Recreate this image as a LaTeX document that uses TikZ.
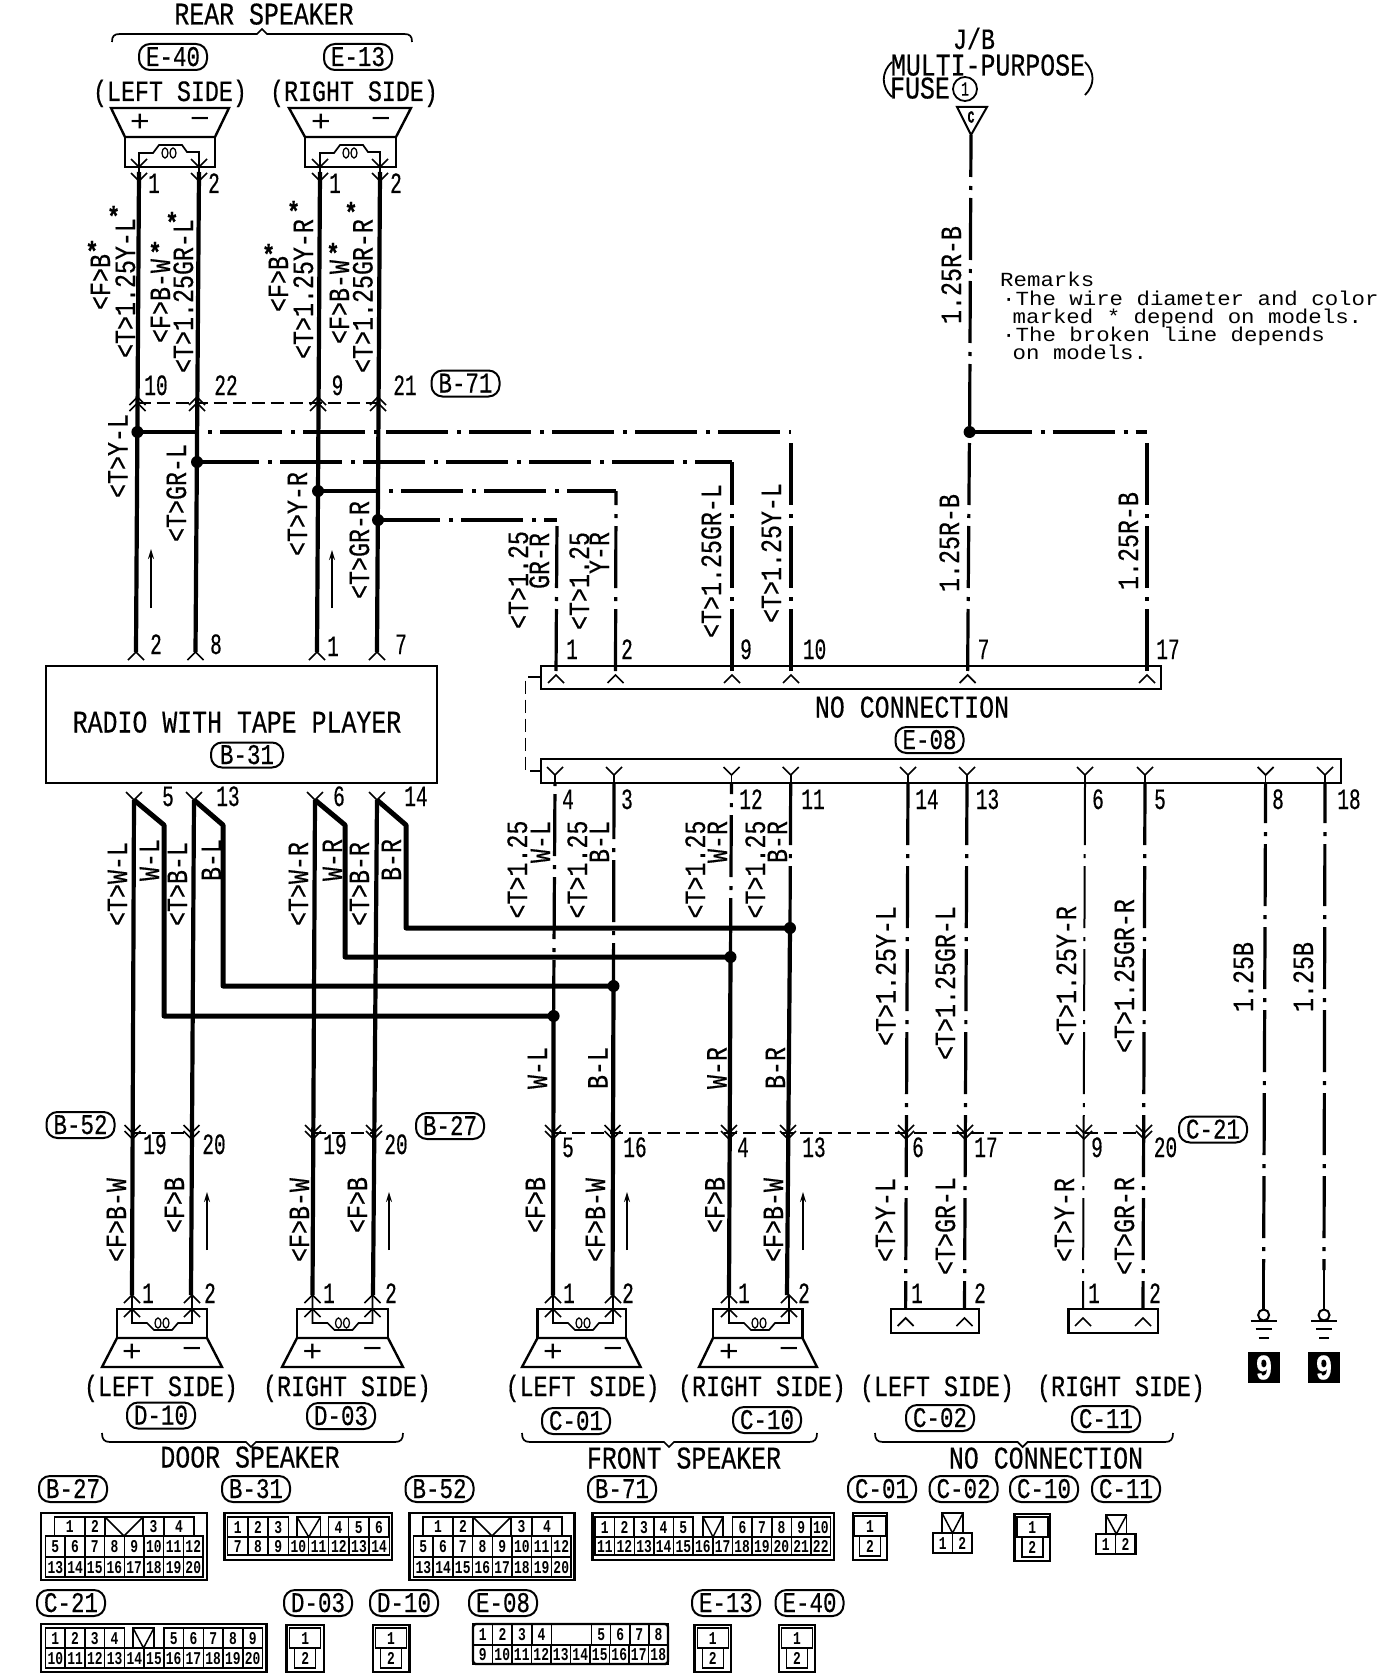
\documentclass[tikz,border=0pt]{standalone}
\usepackage{fontspec}
\usetikzlibrary{arrows.meta}
\newfontfamily\bigf[FakeStretch=0.79,FakeBold=0.4]{Liberation Mono}
\newfontfamily\narf[FakeStretch=0.66,FakeBold=0.4]{Liberation Mono}
\newfontfamily\cellf[FakeStretch=0.72]{Liberation Mono}
\newfontfamily\remf[FakeStretch=1.12]{Liberation Mono}
\newcounter{nn}
\tikzset{
 hb/.style={inner sep=0pt,text height=19pt,text depth=0pt,font=\bigf\fontsize{31.5}{31.5}\selectfont},
 sd/.style={inner sep=0pt,text height=18pt,text depth=0pt,font=\bigf\fontsize{29.5}{29.5}\selectfont},
 num/.style={inner sep=0pt,text height=18pt,text depth=0pt,font=\narf\fontsize{29.5}{29.5}\selectfont},
 rot/.style={sd,rotate=90},
 tagbox/.style={draw,line width=2pt,rounded corners=11pt,inner sep=0pt,minimum width=68pt,minimum height=26pt,text height=18pt,text depth=0pt,font=\bigf\fontsize{28.5}{28.5}\selectfont},
 cellnum/.style={inner sep=0pt,text height=12pt,text depth=0pt,font=\cellf\bfseries\fontsize{18}{18}\selectfont},
 star/.style={inner sep=0pt,font=\bigf\bfseries\fontsize{28}{28}\selectfont},
 sign/.style={inner sep=0pt,font=\remf\fontsize{30}{30}\selectfont},
 rem/.style={inner sep=0pt,anchor=base west,font=\remf\fontsize{20}{20}\selectfont},
 wire/.style={line width=4.2pt},
 hwire/.style={line width=5pt},
 fine/.style={line width=1.7pt},
 frame/.style={line width=2.4pt},
 cellline/.style={line width=1.5pt},
 ddash/.style={line width=3.2pt,dash pattern=on 62pt off 9pt on 4pt off 8pt},
 dthin/.style={line width=2pt,dash pattern=on 62pt off 9pt on 4pt off 8pt},
 dlink/.style={line width=2pt,dash pattern=on 13pt off 6pt},
 jdot/.style={fill=black,draw=none},
 flow/.style={line width=1.6pt,-{Stealth[length=10pt,width=6pt]}},
}
\newcommand\lab[4]{\stepcounter{nn}\node[#1] (n\thenn) at (#2,#3) {#4};}
\newcommand\tagb[3]{\stepcounter{nn}\node[tagbox] (n\thenn) at (#1,#2) {#3};}
\newcommand\chevup[2]{\draw[fine] (#1-8,#2+8) -- (#1,#2) -- (#1+8,#2+8);}
\newcommand\chevdn[2]{\draw[fine] (#1-8,#2-8) -- (#1,#2) -- (#1+8,#2-8);}
\newcommand\jn[2]{\fill[jdot] (#1,#2) circle (6pt);}
\newcommand\cell[5]{\draw[cellline] (#1,#3) rectangle (#2,#4);
  \stepcounter{nn}\node[cellnum] (n\thenn) at ({(#1+#2)/2},{(#3+#4)/2}) {#5};}
\newcommand\cellrow[5]{\foreach \n [count=\k from 0] in {#5} {
   \pgfmathsetmacro\xa{#1+\k*#2}\pgfmathsetmacro\xb{#1+(\k+1)*#2}
   \cell{\xa}{\xb}{#3}{#4}{\n}}}
\newcommand\notch[4]{\draw[cellline] (#1,#3) rectangle (#2,#4);
  \draw[cellline] (#1,#3) -- ({(#1+#2)/2},#4) -- (#2,#3);}
\newcommand\spkup[5]{\draw[frame] (#3,108) -- (#4,108) -- (#2,137) -- (#1,137) -- cycle;
  \draw[frame] (#1,137) rectangle (#2,167);
  \lab{sign}{#5+1}{123}{+}\lab{sign}{#5+61}{123}{−}
  \draw[fine] (#5,172) -- (#5,153) -- (#5+14,153) -- (#5+20,145) -- (#5+43,145) -- (#5+48,152) -- (#5+60,152) -- (#5+60,172);
  \draw[line width=1.3pt] (#5+26,153) ellipse (3pt and 5pt) (#5+34,153) ellipse (3pt and 5pt);}
\newcommand\spkdn[5]{\draw[frame] (#1,1309) rectangle (#2,1338);
  \draw[frame] (#3,1367) -- (#4,1367) -- (#2,1338) -- (#1,1338) -- cycle;
  \lab{sign}{#5}{1353}{+}\lab{sign}{#5+60}{1353}{−}
  \draw[fine] (#5,1295) -- (#5,1323) -- (#5+15,1323) -- (#5+22,1330) -- (#5+40,1330) -- (#5+46,1323) -- (#5+60,1323) -- (#5+60,1295);
  \draw[line width=1.3pt] (#5+26,1323) ellipse (3pt and 5pt) (#5+34,1323) ellipse (3pt and 5pt);
  \chevup{#5}{1295}\chevup{#5+60}{1295}\chevup{#5}{1309}\chevup{#5+60}{1309}}
\newcommand\braceup[4]{\draw[fine] (#1,42) .. controls (#1,36) and (#1+2,34) .. (#1+8,34) -- (#3-5,34) -- (#3,29) -- (#3+5,34) -- (#2-8,34) .. controls (#2-2,34) and (#2,36) .. (#2,42);}
\newcommand\bracedn[3]{\draw[fine] (#1,1433) .. controls (#1,1439) and (#1+2,1442) .. (#1+8,1442) -- (#3-5,1442) -- (#3,1447) -- (#3+5,1442) -- (#2-8,1442) .. controls (#2-2,1442) and (#2,1439) .. (#2,1433);}
\newcommand\grnd[1]{\draw[line width=2.4pt] (#1,1270) -- (#1,1310);
  \draw[line width=2pt] (#1,1315) circle (5.5pt);
  \draw[line width=2.4pt] (#1-13,1321) -- (#1+13,1321) (#1-8,1329) -- (#1+8,1329) (#1-5,1338) -- (#1+5,1338);}
\newcommand\plug[4]{%
  \draw[frame] (#1,#3) rectangle (#2,#3+47);
  \pgfmathsetmacro\mm{(#1+#2)/2}
  \cell{\mm-15.5}{\mm+15.5}{#3+3}{#3+23}{1}
  \cell{\mm-10.5}{\mm+10.5}{#3+23}{#3+43}{2}}
\begin{document}
\begin{tikzpicture}[x=1pt,y=-1pt,line cap=butt]
\useasboundingbox (0,0) rectangle (1392,1680);
\fill[white] (0,0) rectangle (1392,1680);

% ---------- named wire points
\coordinate (At) at (139,172); \coordinate (Ab) at (136,652);
\coordinate (Bt) at (199,172); \coordinate (Bb) at (195.5,652);
\coordinate (Ct) at (320,172); \coordinate (Cb) at (317,652);
\coordinate (Dt) at (380,172); \coordinate (Db) at (377,652);
\coordinate (Ac) at (134,800); \coordinate (Ad) at (132,1295);
\coordinate (Bc) at (194,800); \coordinate (Bd) at (191,1295);
\coordinate (Cc) at (315,800); \coordinate (Cd) at (312.5,1295);
\coordinate (Dc) at (377,800); \coordinate (Dd) at (373,1295);
\coordinate (jA) at (137.4,432); \coordinate (jB) at (197,462);
\coordinate (jC) at (318,491); \coordinate (jD) at (378,520);
\coordinate (jF) at (969.6,432);
\coordinate (c1) at (556,675); \coordinate (c2) at (615.5,675); \coordinate (c9) at (732,675);
\coordinate (c10) at (791,675); \coordinate (c7) at (967.6,675); \coordinate (c17) at (1147,675);
\coordinate (tri) at (971,135);

% ---------- rear speakers
\spkup{125}{215}{111}{229}{139}
\spkup{305}{396}{289}{411}{320}
\foreach \x in {139,199,320,380}{\chevdn{\x}{167}\chevdn{\x}{181}}
\foreach \x in {137.5,197,318,378}{\chevup{\x}{397}\chevup{\x}{403}}

% ---------- main vertical wires
\draw[wire] (At)--(Ab); \draw[wire] (Bt)--(Bb); \draw[wire] (Ct)--(Cb); \draw[wire] (Dt)--(Db);
\draw[wire] (Ac)--(Ad); \draw[wire] (Bc)--(Bd); \draw[wire] (Cc)--(Cd); \draw[wire] (Dc)--(Dd);
% branches from radio
\draw[hwire,line join=round] (Ac) -- (164,825) -- (164,1016) -- (553.6,1016);
\draw[hwire,line join=round] (Bc) -- (223,825) -- (223,986) -- (613.5,986);
\draw[hwire,line join=round] (Cc) -- (345,825) -- (345,957) -- (730.5,957);
\draw[hwire,line join=round] (Dc) -- (406,825) -- (406,928) -- (790,928);
% dashed rows
\draw[dlink] (137.5,403) -- (378,403);
\draw[dlink] (132.5,1133) -- (191.5,1133);
\draw[dlink] (313,1133) -- (374,1133);
\draw[dlink] (553,1133) -- (1144,1133);
\draw[line width=1.6pt,dash pattern=on 13pt off 6pt] (541,677) -- (525.6,677) -- (525.6,771) -- (541,771);

% ---------- dash-dot horizontals and drops
\draw[ddash] (jA) -- (791,432);
\draw[ddash] (jB) -- (732,462);
\draw[ddash] (jC) -- (616,491);
\draw[ddash] (jD) -- (557,520);
\draw[ddash] (jF) -- (1147,432);
\draw[ddash,dash phase=0pt] (791,443) -- (c10);
\draw[ddash,dash phase=19pt] (732,462) -- (c9);
\draw[ddash,dash phase=48pt] (616,491) -- (c2);
\draw[ddash,dash phase=77pt] (557,520) -- (c1);
\draw[ddash] (969.4,443) -- (c7);
\draw[ddash] (1147,443) -- (c17);
\draw[ddash,dash phase=20pt] (tri) -- (jF);
\foreach \j in {jA,jB,jC,jD,jF}{\fill[jdot] (\j) circle (6pt);}

% ---------- connector E-08
\draw[frame] (541,666) rectangle (1161,689);
\draw[frame] (541,759) rectangle (1341,783);
\foreach \x in {556,615.5,732,791,967.6,1147}{\chevup{\x}{675}}
\foreach \x in {555,614,731.5,790.7,908,967,1085,1145,1265.6,1325}{\chevdn{\x}{775}\draw[fine] (\x,775)--(\x,783);}
% lower connector wires
\draw[ddash,dash phase=72pt] (555,783) -- (553.6,1016);
\draw[wire] (553.6,1016) -- (553,1295);
\draw[ddash,dash phase=6pt] (614,783) -- (613.5,986);
\draw[wire] (613.5,986) -- (612.5,1295);
\draw[ddash,dash phase=51pt] (731.5,783) -- (730.5,957);
\draw[wire] (730.5,957) -- (729,1295);
\draw[ddash] (790.7,783) -- (790,928);
\draw[wire] (790,928) -- (787,1295);
\draw[ddash] (908,783) -- (905.6,1309);
\draw[ddash] (967,783) -- (964.5,1309);
\draw[dthin] (1085,783) -- (1083,1309);
\draw[ddash] (1145,783) -- (1143,1309);
\draw[ddash,dash phase=22pt] (1265.6,783) -- (1263.6,1270);
\draw[ddash,dash phase=22pt] (1325,783) -- (1324,1270);
\foreach \x/\y in {553.6/1016,613.5/986,730.5/957,790/928}{\jn{\x}{\y}}
\foreach \x in {132.5,191.5,313,374,553,612.5,729,788,906,965,1084,1144}{\chevdn{\x}{1133}\chevdn{\x}{1139}}

% ---------- lower speakers
\spkdn{117}{207}{102}{222}{132}
\spkdn{297}{388}{282}{403}{312.5}
\spkdn{537.5}{626}{522}{640.6}{553}
\spkdn{713}{802.5}{699}{817}{729}
\draw[frame] (891,1309) rectangle (979,1333);
\draw[frame] (1068.6,1309) rectangle (1158,1333);
\foreach \x in {905.6,964.5,1083,1143}{\chevup{\x}{1318}}
\grnd{1263.6}\grnd{1324}
\stepcounter{nn}\node[fill=black,text=white,inner sep=0pt,minimum width=32pt,minimum height=31pt,font=\bigf\bfseries\fontsize{36}{36}\selectfont] (n\thenn) at (1264,1367.5) {9};
\stepcounter{nn}\node[fill=black,text=white,inner sep=0pt,minimum width=32pt,minimum height=31pt,font=\bigf\bfseries\fontsize{36}{36}\selectfont] (n\thenn) at (1324,1367.5) {9};

% ---------- radio
\node[draw,line width=2.2pt,minimum width=391pt,minimum height=116.5pt,inner sep=0pt] (radio) at (241.7,724.5) {};
\foreach \x in {136,195.5,317,377}{\chevup{\x}{652}}
\foreach \x in {134,194,315,377}{\chevdn{\x}{800}}
\lab{hb}{237}{723}{RADIO WITH TAPE PLAYER}
\stepcounter{nn}\node[tagbox,minimum width=72pt,minimum height=25pt] (n\thenn) at (247,755) {B-31};

% ---------- top texts
\lab{hb}{264}{15}{REAR SPEAKER}
\braceup{112}{412}{262}{}
\tagb{173}{57}{E-40}\tagb{358}{57}{E-13}
\lab{sd}{170}{92}{(LEFT SIDE)}\lab{sd}{354}{92}{(RIGHT SIDE)}
\lab{num}{154}{184}{1}\lab{num}{214}{184}{2}\lab{num}{335}{184}{1}\lab{num}{396}{184}{2}
\lab{num}{156}{386}{10}\lab{num}{226}{386}{22}\lab{num}{337.5}{386}{9}\lab{num}{405}{386}{21}
\tagb{465.5}{383.5}{B-71}
% rotated rear-speaker labels
\lab{rot}{101}{282}{<F>B}\lab{rot}{126}{288}{<T>1.25Y-L}
\lab{rot}{161}{301}{<F>B-W}\lab{rot}{184}{296}{<T>1.25GR-L}
\lab{rot}{279}{284}{<F>B}\lab{rot}{304}{289}{<T>1.25Y-R}
\lab{rot}{340}{302}{<F>B-W}\lab{rot}{363.5}{296}{<T>1.25GR-R}
\lab{star}{92}{251}{*}\lab{star}{113.6}{216}{*}\lab{star}{155}{252}{*}\lab{star}{172}{222}{*}
\lab{star}{268.6}{254}{*}\lab{star}{293.6}{211}{*}\lab{star}{333}{253}{*}\lab{star}{351}{212}{*}
% wires mid labels
\lab{rot}{118.5}{456}{<T>Y-L}\lab{rot}{177}{493}{<T>GR-L}\lab{rot}{298}{514}{<T>Y-R}\lab{rot}{360}{550}{<T>GR-R}
\draw[flow] (151,608) -- (151,549);
\draw[flow] (332,608) -- (332,550);
\lab{num}{156}{645}{2}\lab{num}{216}{645}{8}\lab{num}{333}{647}{1}\lab{num}{401}{645}{7}
% top-row drops labels
\lab{rot}{519}{580}{<T>1.25}\lab{rot}{540}{561}{GR-R}
\lab{rot}{580}{581}{<T>1.25}\lab{rot}{600}{553}{Y-R}
\lab{rot}{712}{561}{<T>1.25GR-L}\lab{rot}{772}{553}{<T>1.25Y-L}
\lab{rot}{950}{543}{1.25R-B}\lab{rot}{1129}{541}{1.25R-B}\lab{rot}{952}{275}{1.25R-B}
\lab{num}{572}{650}{1}\lab{num}{627}{650}{2}\lab{num}{746}{650}{9}\lab{num}{814.6}{650}{10}\lab{num}{983.5}{650}{7}\lab{num}{1168}{650}{17}
\lab{hb}{912}{708}{NO CONNECTION}
\tagb{929.5}{740}{E-08}
\lab{num}{568}{800}{4}\lab{num}{627}{800}{3}\lab{num}{751}{800}{12}\lab{num}{813}{800}{11}
\lab{num}{927}{800}{14}\lab{num}{987.5}{800}{13}\lab{num}{1098}{800}{6}\lab{num}{1160}{800}{5}\lab{num}{1278}{800}{8}\lab{num}{1349}{800}{18}
\lab{num}{168}{797}{5}\lab{num}{228}{797}{13}\lab{num}{339}{797}{6}\lab{num}{416}{797}{14}
% J/B
\lab{sd}{974}{40}{J/B}
\lab{hb}{988}{66}{MULTI-PURPOSE}
\lab{hb}{920}{89}{FUSE}
\draw[line width=1.8pt] (892,62) .. controls (881,72) and (881,87) .. (892,97);
\draw[line width=1.8pt] (1085,62) .. controls (1095,72) and (1095,85) .. (1085,95);
\stepcounter{nn}\node[draw,circle,line width=1.8pt,inner sep=0pt,minimum size=24pt,font=\narf\fontsize{20}{20}\selectfont] (n\thenn) at (965,89) {1};
\draw[line width=2pt] (957,107) -- (987,107) -- (tri) -- cycle;
\stepcounter{nn}\node[inner sep=0pt,font=\narf\bfseries\fontsize{17}{17}\selectfont] (n\thenn) at (971,117) {C};
% Remarks
\stepcounter{nn}\node[rem] (n\thenn) at (1000,287) {Remarks};
\stepcounter{nn}\node[rem] (n\thenn) at (1002,305) {·The wire diameter and color};
\stepcounter{nn}\node[rem] (n\thenn) at (1012.5,323) {marked * depend on models.};
\stepcounter{nn}\node[rem] (n\thenn) at (1002,341) {·The broken line depends};
\stepcounter{nn}\node[rem] (n\thenn) at (1012.5,359) {on models.};

% ---------- lower-left labels
\lab{rot}{118}{884}{<T>W-L}\lab{rot}{150}{860}{W-L}
\lab{rot}{178}{884}{<T>B-L}\lab{rot}{212}{860}{B-L}
\lab{rot}{299}{884}{<T>W-R}\lab{rot}{333}{860}{W-R}
\lab{rot}{360}{884}{<T>B-R}\lab{rot}{392}{860}{B-R}
\lab{rot}{518}{869.5}{<T>1.25}\lab{rot}{541}{842}{W-L}
\lab{rot}{578}{869.5}{<T>1.25}\lab{rot}{600}{842}{B-L}
\lab{rot}{696}{869.5}{<T>1.25}\lab{rot}{718}{842}{W-R}
\lab{rot}{756}{869.5}{<T>1.25}\lab{rot}{778}{842}{B-R}
\lab{rot}{886.5}{976}{<T>1.25Y-L}\lab{rot}{946}{983}{<T>1.25GR-L}
\lab{rot}{1067}{976}{<T>1.25Y-R}\lab{rot}{1125}{976}{<T>1.25GR-R}
\lab{rot}{1244}{977}{1.25B}\lab{rot}{1304}{977}{1.25B}
\lab{rot}{538}{1068}{W-L}\lab{rot}{598.5}{1068}{B-L}\lab{rot}{717.5}{1068}{W-R}\lab{rot}{776}{1068}{B-R}
\tagb{80.5}{1125}{B-52}\tagb{450}{1126}{B-27}\tagb{1213}{1129.5}{C-21}
\lab{num}{155}{1145}{19}\lab{num}{214}{1145}{20}\lab{num}{335}{1145}{19}\lab{num}{396}{1145}{20}
\lab{num}{568}{1148}{5}\lab{num}{635}{1148}{16}\lab{num}{743}{1148}{4}\lab{num}{814}{1148}{13}
\lab{num}{918}{1148}{6}\lab{num}{986}{1148}{17}\lab{num}{1097}{1148}{9}\lab{num}{1165.5}{1148}{20}
\lab{rot}{117}{1220}{<F>B-W}\lab{rot}{175}{1205}{<F>B}\lab{rot}{300}{1220}{<F>B-W}\lab{rot}{358}{1205}{<F>B}
\lab{rot}{536}{1205}{<F>B}\lab{rot}{596}{1220}{<F>B-W}\lab{rot}{715.6}{1205}{<F>B}\lab{rot}{774}{1220}{<F>B-W}
\lab{rot}{886}{1220}{<T>Y-L}\lab{rot}{946}{1226}{<T>GR-L}\lab{rot}{1065}{1220}{<T>Y-R}\lab{rot}{1125}{1226}{<T>GR-R}
\draw[flow] (207,1250) -- (207,1192);
\draw[flow] (389,1250) -- (389,1192);
\draw[flow] (627,1250) -- (627,1192);
\draw[flow] (803,1250) -- (803,1192);
\lab{num}{148}{1294}{1}\lab{num}{210}{1294}{2}\lab{num}{329}{1294}{1}\lab{num}{391}{1294}{2}
\lab{num}{569}{1294}{1}\lab{num}{628}{1294}{2}\lab{num}{744}{1294}{1}\lab{num}{804}{1294}{2}
\lab{num}{917}{1294}{1}\lab{num}{980}{1294}{2}\lab{num}{1094}{1294}{1}\lab{num}{1155}{1294}{2}

% ---------- bottom names
\lab{sd}{161}{1387}{(LEFT SIDE)}\lab{sd}{347}{1387}{(RIGHT SIDE)}\lab{sd}{582.6}{1387}{(LEFT SIDE)}
\lab{sd}{762}{1387}{(RIGHT SIDE)}\lab{sd}{937}{1387}{(LEFT SIDE)}\lab{sd}{1121}{1387}{(RIGHT SIDE)}
\tagb{161}{1415.5}{D-10}\tagb{341}{1416}{D-03}\tagb{576}{1421}{C-01}\tagb{767}{1420}{C-10}\tagb{940}{1418}{C-02}\tagb{1106}{1419}{C-11}
\bracedn{102}{403}{251}\bracedn{522}{817}{669}\bracedn{875}{1173}{1022.6}
\lab{hb}{250}{1458}{DOOR SPEAKER}\lab{hb}{684}{1459}{FRONT SPEAKER}\lab{hb}{1046}{1459}{NO CONNECTION}

% ---------- connector index
\tagb{73}{1489}{B-27}\tagb{256}{1489}{B-31}\tagb{439.5}{1489}{B-52}\tagb{622}{1489}{B-71}
\tagb{882}{1489}{C-01}\tagb{963.6}{1489}{C-02}\tagb{1044}{1489}{C-10}\tagb{1126}{1489}{C-11}
\tagb{71}{1603}{C-21}\tagb{318}{1603}{D-03}\tagb{404}{1603}{D-10}\tagb{503}{1603}{E-08}\tagb{726}{1603}{E-13}\tagb{809.5}{1603}{E-40}
% B-27
\draw[frame] (41,1513) rectangle (206.7,1580);
\cell{54.5}{85}{1517}{1536}{1}\cell{85}{105}{1517}{1536}{2}\notch{105}{143}{1517}{1536}\cell{143}{164}{1517}{1536}{3}\cell{164}{194}{1517}{1536}{4}
\cellrow{45.5}{19.7}{1536}{1557}{5,6,7,8,9,10,11,12}
\cellrow{45.5}{19.7}{1557}{1577}{13,14,15,16,17,18,19,20}
% B-52
\draw[frame] (409.4,1513) rectangle (574.5,1580);
\cell{423}{453}{1517}{1536}{1}\cell{453}{473}{1517}{1536}{2}\notch{473}{511}{1517}{1536}\cell{511}{532}{1517}{1536}{3}\cell{532}{562}{1517}{1536}{4}
\cellrow{413.5}{19.7}{1536}{1557}{5,6,7,8,9,10,11,12}
\cellrow{413.5}{19.7}{1557}{1577}{13,14,15,16,17,18,19,20}
% B-31
\draw[frame] (224.5,1513) rectangle (392,1560);
\cellrow{227.7}{20.2}{1517}{1537}{1,2,3}
\notch{297}{320.5}{1517}{1537}
\cellrow{328.4}{20.2}{1517}{1537}{4,5,6}
\cellrow{227.7}{20.2}{1537}{1555}{7,8,9,10,11,12,13,14}
% B-71
\draw[frame] (592.4,1513) rectangle (834,1560);
\cellrow{595}{19.6}{1517}{1537}{1,2,3,4,5}
\notch{703}{723}{1517}{1537}
\cellrow{732.6}{19.6}{1517}{1537}{6,7,8,9,10}
\cellrow{595}{19.63}{1537}{1555}{11,12,13,14,15,16,17,18,19,20,21,22}
% small plugs
\plug{853}{887}{1513}{}
\plug{1014.5}{1050}{1514}{}
\plug{286.6}{323.7}{1625}{}
\plug{372.8}{409.4}{1625}{}
\plug{694.5}{731}{1625}{}
\plug{779}{815}{1625}{}
\notch{942}{963}{1513}{1533}
\draw[frame] (933,1533) rectangle (972,1553);
\cell{933}{952.5}{1533}{1553}{1}\cell{952.5}{972}{1533}{1553}{2}
\notch{1106}{1126.6}{1515}{1534}
\draw[frame] (1096,1534) rectangle (1135.5,1554);
\cell{1096}{1115.7}{1534}{1554}{1}\cell{1115.7}{1135.5}{1534}{1554}{2}
% C-21
\draw[frame] (41,1624) rectangle (266.5,1672);
\cellrow{45.5}{19.7}{1628}{1648}{1,2,3,4}
\notch{133}{154}{1628}{1648}
\cellrow{164}{19.7}{1628}{1648}{5,6,7,8,9}
\cellrow{45.5}{19.73}{1648}{1668}{10,11,12,13,14,15,16,17,18,19,20}
% E-08
\draw[frame,rounded corners=3pt] (473,1624) rectangle (668,1664);
\cellrow{473}{19.6}{1624}{1645}{1,2,3,4}
\cellrow{591.6}{19.1}{1624}{1645}{5,6,7,8}
\cellrow{473}{19.5}{1645}{1664}{9,10,11,12,13,14,15,16,17,18}
\end{tikzpicture}
\end{document}
